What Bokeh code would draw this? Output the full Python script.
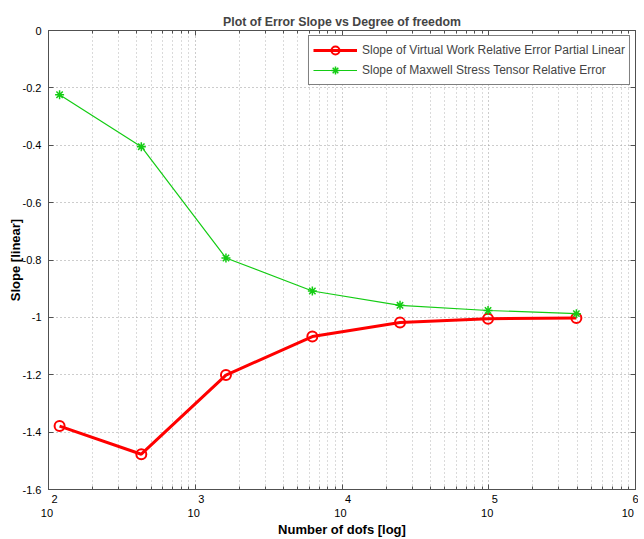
from bokeh.plotting import figure
from bokeh.models import FixedTicker, LogAxis, LinearAxis, Legend, LegendItem, Range1d
from bokeh.embed import file_html
from bokeh.resources import INLINE

# ---- data ----
dofs = [119, 429, 1619, 6280, 24850, 98900, 395500]
vw_slope = [-1.379, -1.477, -1.201, -1.067, -1.018, -1.005, -1.002]
mst_slope = [-0.224, -0.405, -0.793, -0.908, -0.958, -0.976, -0.987]

x_major = [1e2, 1e3, 1e4, 1e5, 1e6]
x_exponents = ["2", "3", "4", "5", "6"]
x_minor = [m * 10 ** k for k in range(2, 6) for m in range(2, 10)]
y_ticks = [0, -0.2, -0.4, -0.6, -0.8, -1.0, -1.2, -1.4, -1.6]
y_labels = ["0", "-0.2", "-0.4", "-0.6", "-0.8", "-1", "-1.2", "-1.4", "-1.6"]

title = "Plot of Error Slope vs Degree of freedom"
xlabel = "Number of dofs [log]"
ylabel = "Slope [linear]"
name_vw = "Slope of Virtual Work Relative Error Partial Linear"
name_mst = "Slope of Maxwell Stress Tensor Relative Error"

FONT = "Liberation Sans"
AXC = "#505050"
NB = "\u00a0"

p = figure(frame_width=587, frame_height=459, x_axis_type="log",
           x_range=Range1d(1e2, 1e6), y_range=Range1d(-1.6, 0),
           output_backend="svg", toolbar_location=None, title=title,
           min_border_left=48, min_border_right=3, min_border_top=30,
           min_border_bottom=46)

p.title.text_font = FONT
p.title.text_font_size = "12.3px"
p.title.text_font_style = "bold"
p.title.align = "center"
p.title.offset = 0
p.title.standoff = 4

p.background_fill_color = "white"
p.border_fill_color = "white"
p.outline_line_color = AXC

xt = FixedTicker(ticks=x_major, minor_ticks=x_minor)
yt = FixedTicker(ticks=y_ticks, minor_ticks=[])

xa = p.xaxis[0]
xa.ticker = xt
xa.major_label_overrides = {t: NB * 4 + e + "\n10" + NB for t, e in zip(x_major, x_exponents)}
ya = p.yaxis[0]
ya.ticker = yt
ya.major_label_overrides = {t: l for t, l in zip(y_ticks, y_labels)}

for ax in (xa, ya):
    ax.axis_line_color = AXC
    ax.major_tick_in = 5
    ax.major_tick_out = 0
    ax.minor_tick_in = 3
    ax.minor_tick_out = 0
    ax.major_tick_line_color = AXC
    ax.minor_tick_line_color = AXC
    ax.major_label_text_font = FONT
    ax.major_label_text_font_size = "11px"
    ax.major_label_text_color = "black"
    ax.axis_label_text_font = FONT
    ax.axis_label_text_font_size = "13px"
    ax.axis_label_text_font_style = "bold"
    ax.axis_label_text_color = "black"

xa.axis_label = xlabel
ya.axis_label = ylabel
xa.major_label_standoff = 3
ya.major_label_standoff = 7
xa.axis_label_standoff = 0
ya.axis_label_standoff = -3

top = LogAxis(ticker=xt, major_label_text_color=None, major_label_text_font_size="1px",
              major_tick_in=5, major_tick_out=0,
              minor_tick_in=3, minor_tick_out=0, axis_line_color=AXC,
              major_tick_line_color=AXC, minor_tick_line_color=AXC, major_label_standoff=0)
right = LinearAxis(ticker=yt, major_label_text_color=None, major_label_text_font_size="1px",
                   major_tick_in=5, major_tick_out=0,
                   axis_line_color=AXC, major_tick_line_color=AXC, major_label_standoff=0)
p.add_layout(top, "above")
p.add_layout(right, "right")

for g in (p.xgrid[0], p.ygrid[0]):
    g.grid_line_color = "#9a9a9a"
    g.grid_line_dash = "1 3"
    g.grid_line_width = 1
p.xgrid[0].ticker = xt
p.ygrid[0].ticker = yt
p.xgrid[0].minor_grid_line_color = "#b4b4b4"
p.xgrid[0].minor_grid_line_dash = "1 3"

red = "#ff0000"
green = "#14cc14"
r1 = p.line(dofs, vw_slope, line_color=red, line_width=3)
r1m = p.scatter(dofs, vw_slope, marker="circle", size=10, line_color=red, line_width=2,
                fill_color=None)
r2 = p.line(dofs, mst_slope, line_color=green, line_width=1.2)
r2m = p.scatter(dofs, mst_slope, marker="asterisk", size=9, line_color=green, line_width=1.5)

leg = Legend(items=[LegendItem(label=name_vw, renderers=[r1, r1m]),
                    LegendItem(label=name_mst, renderers=[r2, r2m])],
             location="top_right")
leg.label_text_font = FONT
leg.label_text_font_size = "12px"
leg.border_line_color = "black"
leg.border_line_width = 1
leg.background_fill_color = "white"
leg.background_fill_alpha = 1
leg.glyph_width = 44
leg.glyph_height = 20
leg.label_height = 20
leg.spacing = 0
leg.padding = 4
leg.margin = 5
leg.label_standoff = 5
p.add_layout(leg)

open("out.html", "w").write(file_html(p, INLINE))
